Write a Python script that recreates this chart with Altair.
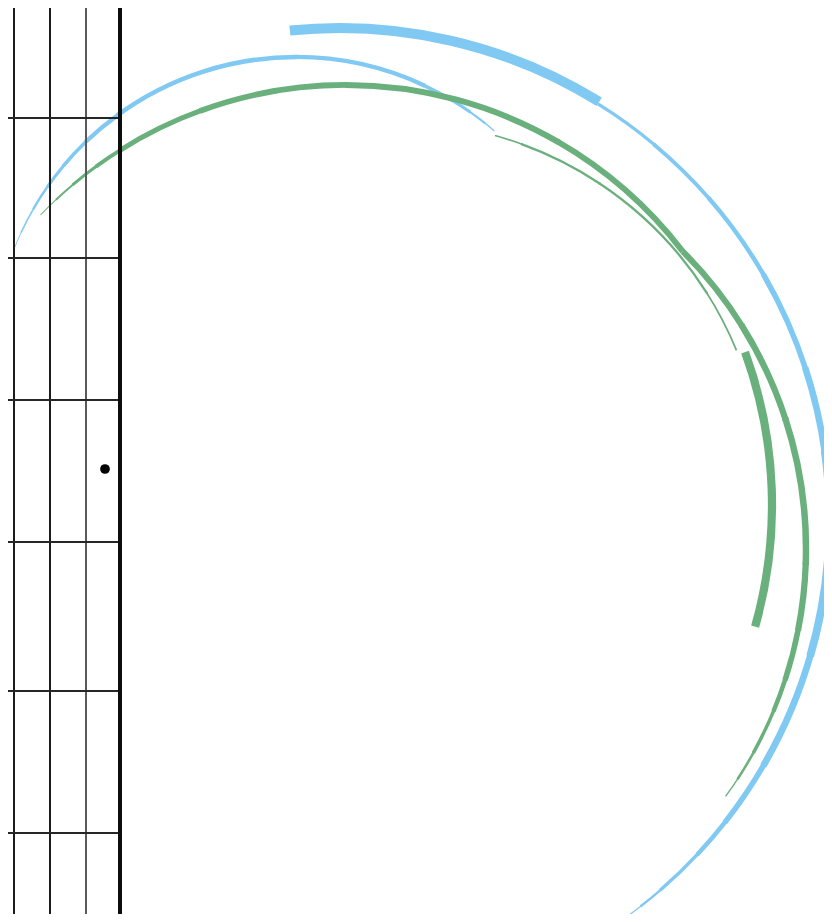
import math
import altair as alt
import pandas as pd

BLUE = "#80C9F2"
GREEN = "#6AB07D"

# ---- fretboard (reference pixel coordinates) ----
string_x = [14, 50, 86]
string_color = ["#1c1c1c", "#1c1c1c", "#5a5a5a"]
nut_x = [120]
fret_y = [118, 258, 400, 542, 691, 833]
marker_x = [2, 105]
marker_y = [469, 469]

# ---- arcs: centre, centre-line radius, stations (deg clockwise from 12 o'clock) and widths ----
arc_name = ["blue_a", "blue_b_band", "blue_b", "green_c1", "green_c2", "green_d", "green_e"]
arc_color = [BLUE, BLUE, BLUE, GREEN, GREEN, GREEN, GREEN]
arc_cx = [296, 340, 340, 346, 385, 396, 325]
arc_cy = [360, 520, 520, 509, 549, 490, 505]
arc_r = [303, 492, 489.5, 424, 421, 368, 447]
arc_deg = [
    [-68.8, -65, -60, -55, -50, -44, -36, 0, 25, 31, 35, 38.5, 40.9],
    [-5.85, 31.8],
    [31.8, 40, 49, 60, 72, 82, 92, 106, 120, 128, 133, 139, 142, 144.7],
    [-46.1, -43, -40, -36, -32, -20, 0, 30, 52.6],
    [45.0, 58, 72, 92, 101, 108, 112.5, 118.8, 123, 126],
    [15.6, 20, 33.6, 57.6, 67.7],
    [70, 105.8],
]
arc_w = [
    [0.3, 1.2, 2.0, 2.8, 3.4, 4.0, 4.5, 4.5, 4.0, 3.3, 2.6, 1.8, 0.8],
    [10.5, 9.5],
    [3, 3.5, 4, 5, 6, 7, 8, 7.5, 6, 5, 4, 3, 2, 0.5],
    [0.5, 1.5, 2.5, 3.5, 4.5, 5.5, 6, 6, 6],
    [6, 6, 6.5, 6.5, 6, 5, 4, 3, 2, 0.8],
    [1.2, 2, 2.5, 2, 1.5],
    [8.5, 8],
]

OVERLAP = 0.15  # degrees, hides seams between adjacent pieces
rows = []
for k in range(len(arc_name)):
    deg, w = arc_deg[k], arc_w[k]
    n = len(deg) - 1
    for i in range(n):
        a0 = deg[i] - (OVERLAP if i > 0 else 0)
        a1 = deg[i + 1] + (OVERLAP if i < n - 1 else 0)
        ww = (w[i] + w[i + 1]) / 2
        rows.append({
            "arc": arc_name[k], "color": arc_color[k], "seq": len(rows),
            "cx": arc_cx[k], "cy": arc_cy[k],
            "r_out": arc_r[k] + ww / 2, "r_in": arc_r[k] - ww / 2,
            "t0": math.radians(a0), "t1": math.radians(a1),
        })
arcs = pd.DataFrame(rows)

W, H = 816, 906
XS = alt.Scale(domain=[8, 8 + W], zero=False, nice=False)
YS = alt.Scale(domain=[8, 8 + H], zero=False, nice=False, reverse=True)


def arc_layer(df):
    return alt.Chart(df).mark_arc(strokeWidth=0).encode(
        x=alt.X("cx:Q", scale=XS, axis=None),
        y=alt.Y("cy:Q", scale=YS, axis=None),
        theta=alt.Theta("t0:Q", scale=None),
        theta2="t1",
        radius=alt.Radius("r_out:Q", scale=None),
        radius2="r_in",
        color=alt.Color("color:N", scale=None),
    )


blue_layer = arc_layer(arcs[arcs["color"] == BLUE])
green_layer = arc_layer(arcs[arcs["color"] == GREEN])

strings = pd.DataFrame({"x": string_x, "c": string_color,
                        "y0": [0] * len(string_x), "y1": [930] * len(string_x)})
string_layer = alt.Chart(strings).mark_rule(strokeWidth=2).encode(
    x=alt.X("x:Q", scale=XS, axis=None),
    y=alt.Y("y0:Q", scale=YS, axis=None),
    y2="y1",
    color=alt.Color("c:N", scale=None),
)

nut = pd.DataFrame({"x": nut_x, "y0": [0], "y1": [930]})
nut_layer = alt.Chart(nut).mark_rule(strokeWidth=4, color="#0d0d0d").encode(
    x=alt.X("x:Q", scale=XS, axis=None),
    y=alt.Y("y0:Q", scale=YS, axis=None),
    y2="y1",
)

frets = pd.DataFrame({"y": fret_y, "x0": [0] * len(fret_y), "x1": [120] * len(fret_y)})
fret_layer = alt.Chart(frets).mark_rule(strokeWidth=2, color="#262626").encode(
    y=alt.Y("y:Q", scale=YS, axis=None),
    x=alt.X("x0:Q", scale=XS, axis=None),
    x2="x1",
)

markers = pd.DataFrame({"x": marker_x, "y": marker_y})
marker_layer = alt.Chart(markers).mark_circle(size=95, color="#000000", opacity=1).encode(
    x=alt.X("x:Q", scale=XS, axis=None),
    y=alt.Y("y:Q", scale=YS, axis=None),
)

chart = alt.layer(
    blue_layer, green_layer, string_layer, fret_layer, nut_layer, marker_layer
).properties(
    width=W, height=H,
    autosize=alt.AutoSizeParams(type="none"),
    padding=0,
    background="#ffffff",
).configure_view(stroke=None)

chart.save("out.html", embed_options={"renderer": "svg", "actions": False})
